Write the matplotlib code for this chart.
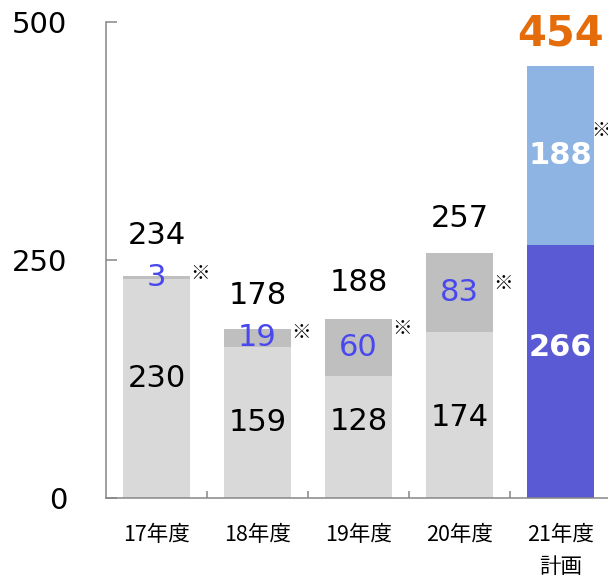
import matplotlib
matplotlib.use("Agg")
import matplotlib.pyplot as plt

# Yearly amounts: base part + additional part (marked ※), totals shown on top
years = ["17年度", "18年度", "19年度", "20年度", "21年度\n計画"]
base = [230, 159, 128, 174, 266]
extra = [3, 19, 60, 83, 188]
totals = [234, 178, 188, 257, 454]

# label nudges (points) for the base-segment numbers, ※ marks and totals
base_nudge = [7, 0, 11, -2, 17]
mark_nudge = [3, 4, 14, 7, 18]
mark_shift = [0, 0, 0, 0, -2.5]
total_nudge = [29, 24, 26, 25, 23]

base_colors = ["#d9d9d9"] * 4 + ["#5a5ad5"]
extra_colors = ["#bfbfbf"] * 4 + ["#8db4e2"]
num_font = "DejaVu Sans"
jp_font = ["Noto Sans CJK JP", "DejaVu Sans"]

fig = plt.figure(figsize=(6.08, 5.77), dpi=100)
ax = fig.add_axes([106 / 608, 79 / 577, 505 / 608, 476 / 577])

x = list(range(len(years)))
width = 0.67
ax.bar(x, base, width, color=base_colors, zorder=2)
ax.bar(x, extra, width, bottom=base, color=extra_colors, zorder=2)

for i in x:
    plan = i == len(years) - 1
    # base segment value
    ax.annotate(str(base[i]), (i, base[i] / 2), xytext=(0, base_nudge[i]),
                textcoords="offset points", ha="center", va="center",
                fontsize=22, family=num_font,
                color="white" if plan else "black",
                fontweight="bold" if plan else "normal")
    # additional segment value
    ax.annotate(str(extra[i]), (i, base[i] + extra[i] / 2), xytext=(0, 0),
                textcoords="offset points", ha="center", va="center",
                fontsize=22, family=num_font,
                color="white" if plan else "#4848ee",
                fontweight="bold" if plan else "normal")
    # reference mark next to the bar
    ax.annotate("※", (i + width / 2, base[i] + extra[i] / 2),
                xytext=(mark_shift[i], mark_nudge[i]), textcoords="offset points",
                ha="left", va="center", fontsize=14, family=jp_font,
                color="black", zorder=3)
    # total above the bar
    ax.annotate(str(totals[i]), (i, base[i] + extra[i]),
                xytext=(0, total_nudge[i]),
                textcoords="offset points", ha="center", va="center",
                fontsize=30 if plan else 22, family=num_font,
                color="#e46c0a" if plan else "black",
                fontweight="bold" if plan else "normal")

ax.set_xlim(-0.5, len(years) - 0.5)
ax.set_ylim(0, 500)
ax.set_yticks([0, 250, 500])
ax.tick_params(axis="y", direction="in", length=8, width=1.1, color="#868686",
               labelsize=21, pad=28)
for lab in ax.get_yticklabels():
    lab.set_family(num_font)

ax.set_xticks(x)
ax.set_xticklabels(years)
ax.set_xticks([i + 0.5 for i in x[:-1]], minor=True)
ax.tick_params(axis="x", which="major", length=0, pad=19)
ax.tick_params(axis="x", which="minor", direction="in", length=5, width=1.1,
               color="#868686")
for lab in ax.get_xticklabels():
    lab.set_family(jp_font)
    lab.set_fontsize(15.5)
    lab.set_linespacing(1.55)

for side in ["top", "right"]:
    ax.spines[side].set_visible(False)
for side in ["left", "bottom"]:
    ax.spines[side].set_color("#868686")
    ax.spines[side].set_linewidth(1.1)

fig.savefig("out.png", dpi=100)
